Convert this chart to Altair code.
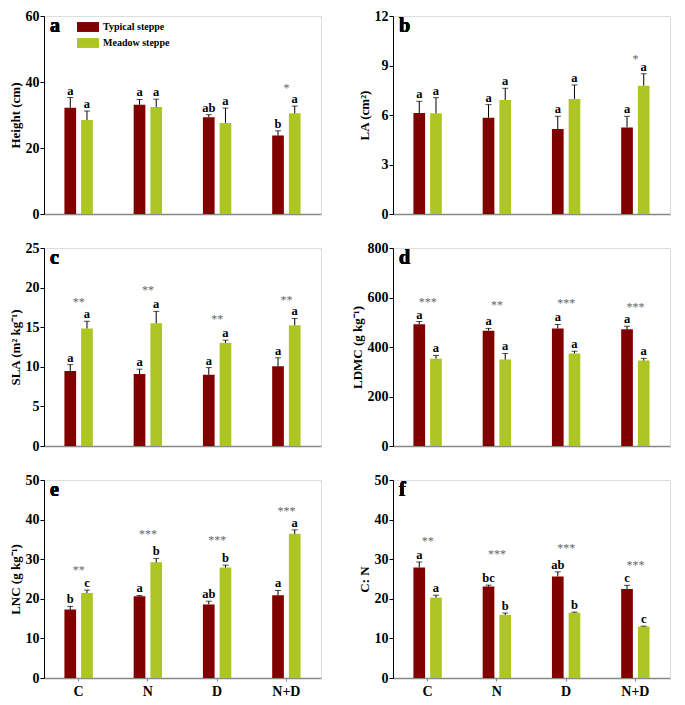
import altair as alt
import pandas as pd

treatments = ["C", "N", "D", "N+D"]
steppes = ["Typical steppe", "Meadow steppe"]
colors = ["#800000", "#AEC623"]

# (a) Height
height_typ = [32.2, 33.1, 29.3, 23.8]
height_typ_se = [3.1, 1.6, 0.8, 1.4]
height_mea = [28.5, 32.4, 27.6, 30.5]
height_mea_se = [2.7, 2.4, 4.5, 2.2]
height_let_typ = ["a", "a", "ab", "b"]
height_let_mea = ["a", "a", "a", "a"]
height_stars = ["", "", "", "*"]
height_star_y = [0, 0, 0, 38.6]

# (b) LA
la_typ = [6.12, 5.84, 5.15, 5.25]
la_typ_se = [0.71, 0.79, 0.77, 0.67]
la_mea = [6.10, 6.91, 6.97, 7.78]
la_mea_se = [0.95, 0.71, 0.85, 0.72]
la_let_typ = ["a", "a", "a", "a"]
la_let_mea = ["a", "a", "a", "a"]
la_stars = ["", "", "", "*"]
la_star_y = [0, 0, 0, 9.43]

# (c) SLA
sla_typ = [9.46, 9.09, 9.0, 10.07]
sla_typ_se = [0.82, 0.61, 0.9, 1.07]
sla_mea = [14.84, 15.5, 13.03, 15.25]
sla_mea_se = [0.91, 1.5, 0.33, 0.85]
sla_let_typ = ["a", "a", "a", "a"]
sla_let_mea = ["a", "a", "a", "a"]
sla_stars = ["**", "**", "**", "**"]
sla_star_y = [18.3, 19.8, 16.2, 18.6]

# (d) LDMC
ldmc_typ = [492, 466, 475, 472]
ldmc_typ_se = [11, 9, 16, 12]
ldmc_mea = [353, 349, 374, 345]
ldmc_mea_se = [13, 25, 9, 9]
ldmc_let_typ = ["a", "a", "a", "a"]
ldmc_let_mea = ["a", "a", "a", "a"]
ldmc_stars = ["***", "**", "***", "***"]
ldmc_star_y = [585, 572, 582, 566]

# (e) LNC
lnc_typ = [17.27, 20.64, 18.59, 20.9]
lnc_typ_se = [0.82, 0.2, 0.8, 1.2]
lnc_mea = [21.46, 29.2, 27.9, 36.4]
lnc_mea_se = [0.74, 1.0, 0.6, 1.0]
lnc_let_typ = ["b", "a", "ab", "a"]
lnc_let_mea = ["c", "b", "b", "a"]
lnc_stars = ["**", "***", "***", "***"]
lnc_star_y = [27.4, 36.5, 35.0, 42.4]

# (f) C:N
cn_typ = [27.9, 23.1, 25.66, 22.5]
cn_typ_se = [1.4, 0.35, 1.15, 0.9]
cn_mea = [20.3, 15.95, 16.5, 13.0]
cn_mea_se = [0.6, 0.45, 0.15, 0.1]
cn_let_typ = ["a", "bc", "ab", "c"]
cn_let_mea = ["a", "b", "b", "c"]
cn_stars = ["**", "***", "***", "***"]
cn_star_y = [34.8, 31.5, 33.1, 28.9]

FONT = "Liberation Serif"
W, H = 277, 198


def panel(tag, ytitle, typ, typ_se, mea, mea_se, let_typ, let_mea, stars, star_y,
          ymax, ystep, bottom=False, legend=False):
    rows = []
    for i, t in enumerate(treatments):
        rows.append(dict(treat=t, steppe=steppes[0], mean=typ[i], hi=typ[i] + typ_se[i], letter=let_typ[i]))
        rows.append(dict(treat=t, steppe=steppes[1], mean=mea[i], hi=mea[i] + mea_se[i], letter=let_mea[i]))
    df = pd.DataFrame(rows)
    sdf = pd.DataFrame([dict(treat=t, star=s, y=y) for t, s, y in zip(treatments, stars, star_y) if s])

    x = alt.X("treat:N", sort=treatments,
              scale=alt.Scale(domain=treatments, paddingInner=0.59, paddingOuter=0.295),
              axis=alt.Axis(title=None, labels=bottom, ticks=bottom, tickSize=3,
                            tickColor="#888888", labelAngle=0,
                            labelFont=FONT, labelFontWeight="bold", labelFontSize=14,
                            labelColor="black", domainColor="#888888", domainWidth=1.5,
                            labelPadding=3))
    xo = alt.XOffset("steppe:N", sort=steppes,
                     scale=alt.Scale(domain=steppes, paddingInner=0.3, paddingOuter=0))
    ys = alt.Scale(domain=[0, ymax], nice=False, zero=True)
    vals = list(range(0, ymax + 1, ystep))
    yaxis = alt.Axis(title=ytitle, values=vals, tickCount=len(vals) + 2, grid=False,
                     labelOverlap=False, labelFlush=False,
                     labelFont=FONT, labelFontWeight="bold", labelFontSize=14,
                     labelColor="black", titleFont=FONT, titleFontWeight="bold",
                     titleFontSize=13, titleColor="black", titlePadding=3,
                     domainColor="black", domainWidth=1, tickColor="black",
                     tickSize=4, labelPadding=1)

    if legend:
        color = alt.Color("steppe:N", sort=steppes,
                          scale=alt.Scale(domain=steppes, range=colors),
                          legend=alt.Legend(title=None, orient="none", legendX=33, legendY=0,
                                            symbolType="M-1,-0.45L1,-0.45L1,0.45L-1,0.45Z",
                                            symbolSize=484, symbolStrokeWidth=0,
                                            labelFont=FONT, labelFontWeight="bold",
                                            labelFontSize=10, labelColor="black",
                                            labelOffset=4, rowPadding=0))
    else:
        color = alt.Color("steppe:N", sort=steppes,
                          scale=alt.Scale(domain=steppes, range=colors), legend=None)

    base = alt.Chart(df)
    bars = base.mark_bar().encode(x=x, xOffset=xo, y=alt.Y("mean:Q", scale=ys, axis=yaxis), color=color)
    err = base.mark_rule(color="black", strokeWidth=1).encode(x=x, xOffset=xo, y="mean:Q", y2="hi:Q")
    cap = base.mark_tick(color="black", thickness=1, size=6).encode(x=x, xOffset=xo, y="hi:Q")
    let = base.mark_text(font=FONT, fontWeight="bold", fontSize=12.5, color="black",
                         baseline="alphabetic", dy=-3).encode(x=x, xOffset=xo, y="hi:Q", text="letter:N")
    layers = [bars, err, cap, let]
    if len(sdf):
        st = alt.Chart(sdf).mark_text(font=FONT, fontWeight="normal", fontSize=12, color="#666666",
                                      baseline="alphabetic", dy=5).encode(x=x, y="y:Q", text="star:N")
        layers.append(st)
    lab = base.mark_text(font=FONT, fontWeight="bold", fontSize=20, color="black",
                         align="left", baseline="alphabetic").encode(
        x=alt.value(6), y=alt.value(16), text=alt.value(tag))
    layers.append(lab)
    return alt.layer(*layers).properties(width=W, height=H)


pa = panel("a", "Height (cm)", height_typ, height_typ_se, height_mea, height_mea_se,
           height_let_typ, height_let_mea, height_stars, height_star_y, 60, 20, legend=True)
pb = panel("b", "LA (cm²)", la_typ, la_typ_se, la_mea, la_mea_se,
           la_let_typ, la_let_mea, la_stars, la_star_y, 12, 3)
pc = panel("c", "SLA  (m² kg⁻¹)", sla_typ, sla_typ_se, sla_mea, sla_mea_se,
           sla_let_typ, sla_let_mea, sla_stars, sla_star_y, 25, 5)
pd_ = panel("d", "LDMC  (g kg⁻¹)", ldmc_typ, ldmc_typ_se, ldmc_mea, ldmc_mea_se,
            ldmc_let_typ, ldmc_let_mea, ldmc_stars, ldmc_star_y, 800, 200)
pe = panel("e", "LNC (g kg⁻¹)", lnc_typ, lnc_typ_se, lnc_mea, lnc_mea_se,
           lnc_let_typ, lnc_let_mea, lnc_stars, lnc_star_y, 50, 10, bottom=True)
pf = panel("f", "C: N", cn_typ, cn_typ_se, cn_mea, cn_mea_se,
           cn_let_typ, cn_let_mea, cn_stars, cn_star_y, 50, 10, bottom=True)

chart = alt.concat(pa, pb, pc, pd_, pe, pf, columns=2, spacing={"row": 34, "column": 72},
                   bounds="flush").resolve_scale(color="independent", y="independent",
                                                 x="independent").resolve_legend(color="independent")
chart = chart.properties(padding=0).configure_view(stroke="#888888", strokeWidth=1.5).configure(background="white")

chart.save("out.html", embed_options={"renderer": "svg", "actions": False})
